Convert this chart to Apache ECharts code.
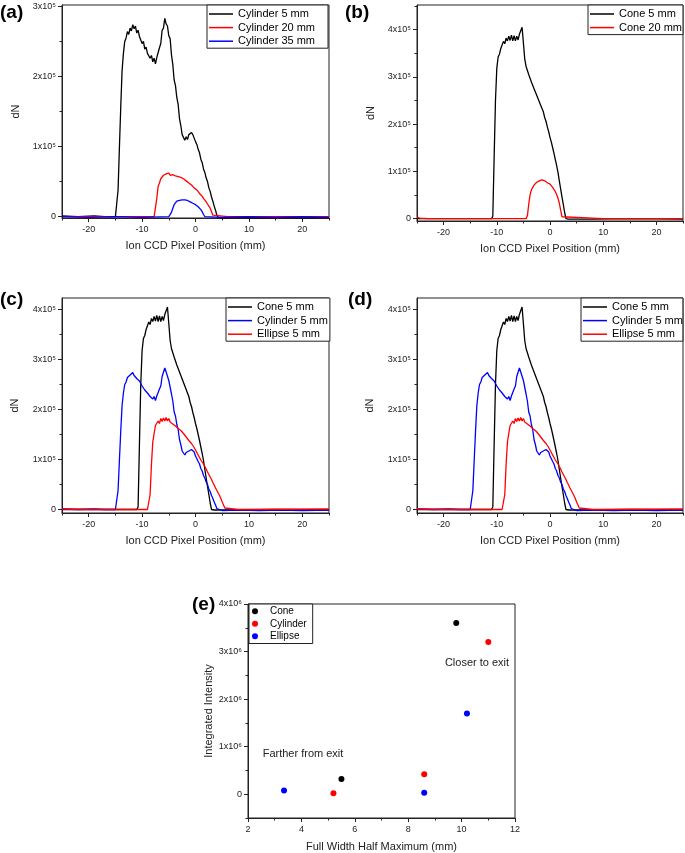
<!DOCTYPE html>
<html><head><meta charset="utf-8">
<script src="https://cdn.jsdelivr.net/npm/echarts@6/dist/echarts.min.js"></script>
<style>html,body{margin:0;padding:0;background:#fff}#c{width:685px;height:853px}</style>
</head><body><div id="c"></div>
<script>
// ---------- DATA (y in units of 1e5 counts for profiles, 1e6 for integrated intensity) ----------
const cyl5mm = [[-25,0.01],[-22,0],[-19,0.01],[-17,0],[-15,0],[-14.75,0.02],[-14.5,0.38],[-14.25,0.98],[-14,1.56],[-13.75,2.08],[-13.5,2.33],[-13.25,2.5],[-13,2.55],[-12.75,2.64],[-12.5,2.6],[-12.25,2.69],[-12,2.65],[-11.75,2.74],[-11.5,2.68],[-11.25,2.72],[-11,2.62],[-10.75,2.66],[-10.5,2.57],[-10.25,2.58],[-10,2.47],[-9.75,2.5],[-9.5,2.39],[-9.25,2.42],[-9,2.33],[-8.75,2.35],[-8.5,2.26],[-8.25,2.3],[-8,2.21],[-7.75,2.26],[-7.5,2.18],[-7.25,2.27],[-7,2.28],[-6.75,2.41],[-6.5,2.47],[-6.25,2.66],[-6,2.69],[-5.75,2.83],[-5.5,2.75],[-5.25,2.72],[-5,2.58],[-4.75,2.54],[-4.5,2.31],[-4.25,2.17],[-4,1.95],[-3.75,1.87],[-3.5,1.7],[-3.25,1.6],[-3,1.4],[-2.75,1.3],[-2.5,1.17],[-2.25,1.17],[-2,1.09],[-1.75,1.14],[-1.5,1.1],[-1.25,1.17],[-1,1.15],[-0.75,1.2],[-0.5,1.17],[-0.25,1.15],[0,1.07],[0.25,1.03],[0.5,0.96],[0.75,0.91],[1,0.82],[1.25,0.77],[1.5,0.68],[1.75,0.63],[2,0.55],[2.25,0.5],[2.5,0.41],[2.75,0.36],[3,0.28],[3.25,0.22],[3.5,0.15],[3.75,0.09],[4,0.02],[4.25,-0.01],[5,-0.02],[8,-0.01],[12,-0.02],[16,-0.01],[20,-0.02],[25,-0.01]];
const cyl20mm = [[-25,0],[-15,0],[-10,0],[-7.75,0],[-7.5,0.02],[-7.25,0.26],[-7,0.43],[-6.75,0.48],[-6.5,0.54],[-6.25,0.54],[-6,0.59],[-5.75,0.57],[-5.5,0.61],[-5.25,0.59],[-5,0.62],[-4.75,0.59],[-4.5,0.61],[-4.25,0.6],[-4,0.62],[-3.75,0.58],[-3.5,0.6],[-3.25,0.57],[-3,0.59],[-2.75,0.56],[-2.5,0.57],[-2.25,0.54],[-2,0.54],[-1.75,0.51],[-1.5,0.51],[-1.25,0.48],[-1,0.47],[-0.75,0.45],[-0.5,0.44],[-0.25,0.41],[0,0.41],[0.25,0.38],[0.5,0.36],[0.75,0.33],[1,0.31],[1.25,0.29],[1.5,0.26],[1.75,0.24],[2,0.21],[2.25,0.18],[2.5,0.15],[2.75,0.12],[3,0.07],[3.25,0.02],[3.5,0],[6,0],[25,0]];
const cyl35mm = [[-25,0],[-20,-0.01],[-15,0],[-10,-0.01],[-5,0],[-4.75,0.01],[-4.5,0.06],[-4.25,0.12],[-4,0.17],[-3.75,0.19],[-3.5,0.22],[-3.25,0.21],[-3,0.23],[-2.75,0.22],[-2.5,0.24],[-2.25,0.22],[-2,0.24],[-1.75,0.22],[-1.5,0.23],[-1.25,0.21],[-1,0.21],[-0.75,0.19],[-0.5,0.19],[-0.25,0.17],[0,0.17],[0.25,0.15],[0.5,0.14],[0.75,0.12],[1,0.1],[1.25,0.07],[1.5,0.03],[1.75,0],[2,-0.01],[5,-0.01],[10,0],[15,-0.01],[20,0],[25,-0.01]];
const cone5mm = [[-25,0],[-20,0],[-15,0],[-11,0],[-10.75,0.05],[-10.5,1.3],[-10.25,2.5],[-10,3.18],[-9.75,3.42],[-9.5,3.48],[-9.25,3.6],[-9,3.63],[-8.75,3.75],[-8.5,3.7],[-8.25,3.82],[-8,3.76],[-7.75,3.86],[-7.5,3.77],[-7.25,3.88],[-7,3.76],[-6.75,3.87],[-6.5,3.76],[-6.25,3.86],[-6,3.78],[-5.75,3.9],[-5.5,3.86],[-5.25,4.05],[-5,3.72],[-4.75,3.38],[-4.5,3.22],[-4.25,3.19],[-4,3.05],[-3.75,3.02],[-3.5,2.89],[-3.25,2.87],[-3,2.75],[-2.75,2.72],[-2.5,2.61],[-2.25,2.6],[-2,2.47],[-1.75,2.44],[-1.5,2.33],[-1.25,2.26],[-1,2.14],[-0.75,2.06],[-0.5,1.94],[-0.25,1.84],[0,1.72],[0.25,1.62],[0.5,1.5],[0.75,1.38],[1,1.25],[1.25,1.12],[1.5,0.98],[1.75,0.8],[2,0.63],[2.25,0.46],[2.5,0.3],[2.75,0.13],[3,0],[3.5,-0.01],[8,-0.01],[15,0],[25,-0.01]];
const cone20mm = [[-25,0.03],[-24.5,0.01],[-23,0],[-15,0],[-4.5,0],[-4.25,0.06],[-4,0.3],[-3.75,0.5],[-3.5,0.61],[-3.25,0.65],[-3,0.71],[-2.75,0.72],[-2.5,0.77],[-2.25,0.76],[-2,0.8],[-1.75,0.78],[-1.5,0.82],[-1.25,0.78],[-1,0.8],[-0.75,0.76],[-0.5,0.76],[-0.25,0.72],[0,0.73],[0.25,0.69],[0.5,0.66],[0.75,0.62],[1,0.57],[1.25,0.51],[1.5,0.43],[1.75,0.33],[2,0.18],[2.25,0.04],[2.5,0],[10,0],[25,0]];
const ell5mm = [[-25,0.01],[-20,0],[-15,0],[-9,0],[-8.75,0.02],[-8.5,0.3],[-8.25,0.9],[-8,1.35],[-7.75,1.52],[-7.5,1.68],[-7.25,1.66],[-7,1.77],[-6.75,1.72],[-6.5,1.82],[-6.25,1.76],[-6,1.83],[-5.75,1.77],[-5.5,1.84],[-5.25,1.77],[-5,1.82],[-4.75,1.75],[-4.5,1.79],[-4.25,1.71],[-4,1.75],[-3.75,1.67],[-3.5,1.71],[-3.25,1.62],[-3,1.66],[-2.75,1.58],[-2.5,1.61],[-2.25,1.52],[-2,1.53],[-1.75,1.45],[-1.5,1.45],[-1.25,1.38],[-1,1.38],[-0.75,1.32],[-0.5,1.31],[-0.25,1.24],[0,1.2],[0.25,1.14],[0.5,1.09],[0.75,1.04],[1,0.99],[1.25,0.95],[1.5,0.91],[1.75,0.86],[2,0.81],[2.25,0.75],[2.5,0.7],[2.75,0.65],[3,0.6],[3.25,0.54],[3.5,0.49],[3.75,0.43],[4,0.38],[4.25,0.33],[4.5,0.28],[4.75,0.22],[5,0.15],[5.25,0.09],[5.5,0.03],[5.75,0],[8,0],[25,0.01]];

const coneFWHM = [9.8, 5.5];
const coneIntensity = [3.6, 0.32];
const cylFWHM = [11.0, 8.6, 5.2];
const cylIntensity = [3.2, 0.42, 0.02];
const ellFWHM = [10.2, 8.6, 3.35];
const ellIntensity = [1.7, 0.03, 0.08];

const xTicksMajor = [-20, -10, 0, 10, 20];
const xTicksMinor = [-25, -15, -5, 5, 15, 25];
const yTicksA = [0, 1, 2, 3];
const yTicksAMinor = [0.5, 1.5, 2.5];
const yTicksB = [0, 1, 2, 3, 4];
const yTicksBMinor = [0.5, 1.5, 2.5, 3.5, 4.5];
const yTicksC = [0, 1, 2, 3, 4];
const yTicksCMinor = [0.5, 1.5, 2.5, 3.5];
const eXTicks = [2, 4, 6, 8, 10, 12];
const eXTicksMinor = [3, 5, 7, 9, 11];
const eYTicks = [0, 1, 2, 3, 4];
const eYTicksMinor = [-0.5, 0.5, 1.5, 2.5, 3.5];

// ---------- CHART ----------
const FONT = '"Liberation Sans", Arial, sans-serif';
const AX = '#222';
const BLACK = '#000', RED = '#ff0000', BLUE = '#0000ff';
const chart = echarts.init(document.getElementById('c'), null, {renderer: 'canvas'});

const gridDefs = [
  {left: 62, top: 5, width: 267, height: 213},
  {left: 417, top: 5, width: 266, height: 216},
  {left: 62, top: 298, width: 267, height: 215},
  {left: 417, top: 298, width: 266, height: 215},
  {left: 248, top: 604, width: 267, height: 214}
];
const grid = gridDefs.map(g => Object.assign({}, g, {show: true, borderColor: AX, borderWidth: 1, backgroundColor: 'transparent', containLabel: false, outerBoundsMode: 'none'}));

function mainAxis(gi, min, max, major, fmt, name, nameGap, isY) {
  return {
    type: 'value', gridIndex: gi, min: min, max: max,
    position: isY ? 'left' : 'bottom',
    axisLine: {show: true, onZero: false, lineStyle: {color: AX, width: 1}},
    axisTick: {show: true, customValues: major, length: 4, lineStyle: {color: AX, width: 1}},
    axisLabel: {show: true, customValues: major, formatter: fmt, fontSize: 9, color: AX, fontFamily: FONT, margin: isY ? 6 : 7},
    splitLine: {show: false},
    name: name, nameLocation: 'middle', nameGap: nameGap,
    nameTextStyle: {fontSize: 11, color: AX, fontFamily: FONT}
  };
}
function minorAxis(gi, min, max, minor, isY) {
  return {
    type: 'value', gridIndex: gi, min: min, max: max,
    position: isY ? 'left' : 'bottom',
    axisLine: {show: false, onZero: false},
    axisTick: {show: true, customValues: minor, length: 2.5, lineStyle: {color: AX, width: 1}},
    axisLabel: {show: false}, splitLine: {show: false}
  };
}
const xName = 'Ion CCD Pixel Position (mm)';
const plain = v => String(v);
const sup5 = v => v === 0 ? '0' : v + 'x10⁵';
const sup6 = v => v === 0 ? '0' : v + 'x10⁶';

const xAxis = [], yAxis = [];
[0, 1, 2, 3].forEach(gi => {
  xAxis.push(mainAxis(gi, -25, 25, xTicksMajor, plain, xName, 22, false));
  xAxis.push(minorAxis(gi, -25, 25, xTicksMinor, false));
});
xAxis.push(mainAxis(4, 2, 12, eXTicks, plain, 'Full Width Half Maximum (mm)', 23, false));
xAxis.push(minorAxis(4, 2, 12, eXTicksMinor, false));

yAxis.push(mainAxis(0, -0.02, 3.02, yTicksA, sup5, 'dN', 41, true));
yAxis.push(minorAxis(0, -0.02, 3.02, yTicksAMinor, true));
yAxis.push(mainAxis(1, -0.05, 4.52, yTicksB, sup5, 'dN', 41, true));
yAxis.push(minorAxis(1, -0.05, 4.52, yTicksBMinor, true));
yAxis.push(mainAxis(2, -0.07, 4.23, yTicksC, sup5, 'dN', 42, true));
yAxis.push(minorAxis(2, -0.07, 4.23, yTicksCMinor, true));
yAxis.push(mainAxis(3, -0.07, 4.23, yTicksC, sup5, 'dN', 42, true));
yAxis.push(minorAxis(3, -0.07, 4.23, yTicksCMinor, true));
yAxis.push(mainAxis(4, -0.5, 4, eYTicks, sup6, 'Integrated Intensity', 32, true));
yAxis.push(minorAxis(4, -0.5, 4, eYTicksMinor, true));

function line(name, gi, data, color) {
  return {
    type: 'line', name: name, xAxisIndex: gi * 2, yAxisIndex: gi * 2, data: data,
    showSymbol: false, symbol: 'none', color: color,
    lineStyle: {color: color, width: 1.3}, silent: true, animation: false, sampling: 'none'
  };
}
const zip = (a, b) => a.map((v, i) => [v, b[i]]);
function dots(name, xs, ys, color) {
  return {
    type: 'scatter', name: name, xAxisIndex: 8, yAxisIndex: 8, data: zip(xs, ys),
    symbol: 'circle', symbolSize: 6, color: color, itemStyle: {color: color, opacity: 1}, animation: false
  };
}
const series = [
  line('a|Cylinder 5 mm', 0, cyl5mm, BLACK),
  line('a|Cylinder 20 mm', 0, cyl20mm, RED),
  line('a|Cylinder 35 mm', 0, cyl35mm, BLUE),
  line('b|Cone 5 mm', 1, cone5mm, BLACK),
  line('b|Cone 20 mm', 1, cone20mm, RED),
  line('c|Cone 5 mm', 2, cone5mm, BLACK),
  line('c|Cylinder 5 mm', 2, cyl5mm, BLUE),
  line('c|Ellipse 5 mm', 2, ell5mm, RED),
  line('d|Cone 5 mm', 3, cone5mm, BLACK),
  line('d|Cylinder 5 mm', 3, cyl5mm, BLUE),
  line('d|Ellipse 5 mm', 3, ell5mm, RED),
  dots('e|Cone', coneFWHM, coneIntensity, BLACK),
  dots('e|Cylinder', cylFWHM, cylIntensity, RED),
  dots('e|Ellipse', ellFWHM, ellIntensity, BLUE)
];

function lineLegend(names, left, top, padR) {
  return {
    data: names, left: left, top: top, orient: 'vertical',
    icon: 'rect', itemWidth: 24, itemHeight: 1.5, itemGap: 0.6,
    formatter: n => n.split('|')[1], selectedMode: false,
    textStyle: {fontSize: 11, lineHeight: 13, color: '#000', fontFamily: FONT},
    padding: [2.5, padR, 0.5, 2], borderColor: AX, borderWidth: 1, backgroundColor: '#fff', borderRadius: 0
  };
}
const legend = [
  lineLegend(['a|Cylinder 5 mm', 'a|Cylinder 20 mm', 'a|Cylinder 35 mm'], 207, 5, 13),
  lineLegend(['b|Cone 5 mm', 'b|Cone 20 mm'], 588, 5, 1),
  lineLegend(['c|Cone 5 mm', 'c|Cylinder 5 mm', 'c|Ellipse 5 mm'], 226, 298, 2),
  lineLegend(['d|Cone 5 mm', 'd|Cylinder 5 mm', 'd|Ellipse 5 mm'], 581, 298, 0),
  {
    data: ['e|Cone', 'e|Cylinder', 'e|Ellipse'], left: 249, top: 604, orient: 'vertical',
    icon: 'circle', itemWidth: 20, itemHeight: 6, itemGap: 1,
    formatter: n => n.split('|')[1], selectedMode: false,
    textStyle: {fontSize: 10, lineHeight: 11.5, color: '#000', fontFamily: FONT},
    padding: [1.5, 6, 1.5, 3], borderColor: AX, borderWidth: 1, backgroundColor: '#fff'
  }
];

function label(txt, x, y) {
  return {type: 'text', left: x, top: y, style: {text: txt, font: 'bold 19px "Liberation Sans", Arial, sans-serif', fill: '#000'}};
}
function note(txt, cx, cy) {
  return {type: 'text', x: cx, y: cy, style: {text: txt, font: '11px "Liberation Sans", Arial, sans-serif', fill: '#222', align: 'center', verticalAlign: 'middle'}};
}
const graphic = [
  label('(a)', 0, 3), label('(b)', 345, 3), label('(c)', 0, 290), label('(d)', 348, 290), label('(e)', 192, 595),
  note('Closer to exit', 477, 663), note('Farther from exit', 303, 754)
];

chart.setOption({animation: false, backgroundColor: '#fff', grid, xAxis, yAxis, series, legend, graphic});
</script></body></html>
